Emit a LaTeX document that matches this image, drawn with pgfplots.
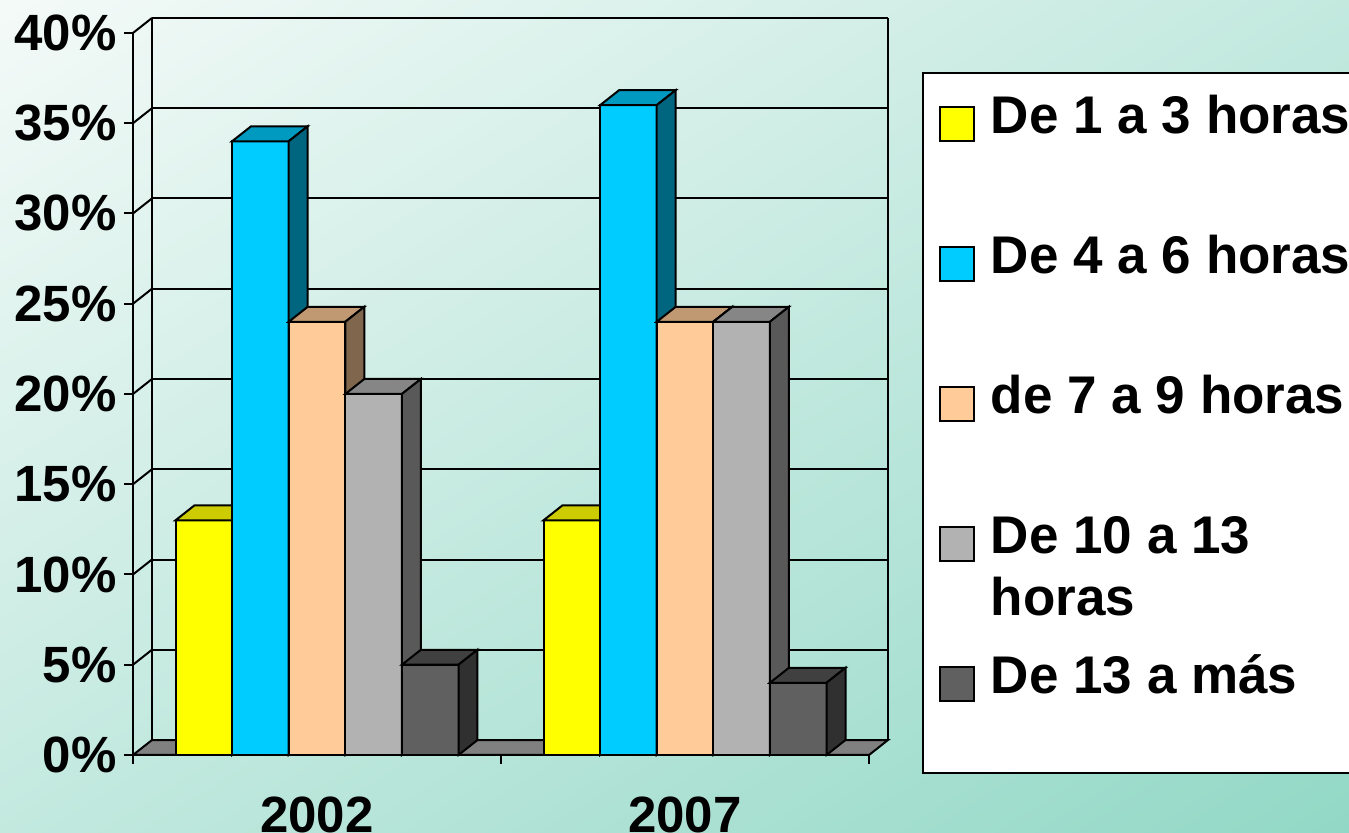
\documentclass[border=0pt]{standalone}
\usepackage{pgfplots}
\pgfplotsset{compat=1.18}
\usetikzlibrary{shadings}
\usepackage{fontspec}
\setmainfont{Liberation Sans}

\definecolor{bgA}{RGB}{244,250,248}
\definecolor{bgM}{RGB}{195,233,223}
\definecolor{bgB}{RGB}{146,216,198}
\definecolor{yf}{RGB}{255,255,0}\definecolor{yt}{RGB}{204,204,0}\definecolor{ys}{RGB}{128,128,0}
\definecolor{bf}{RGB}{0,204,255}\definecolor{bt}{RGB}{0,153,192}\definecolor{bs}{RGB}{0,102,128}
\definecolor{of}{RGB}{255,204,153}\definecolor{ot}{RGB}{192,153,115}\definecolor{os}{RGB}{128,102,77}
\definecolor{gf}{RGB}{178,178,178}\definecolor{gt}{RGB}{134,134,134}\definecolor{gs}{RGB}{89,89,89}
\definecolor{df}{RGB}{96,96,96}\definecolor{dt}{RGB}{64,64,64}\definecolor{ds}{RGB}{48,48,48}
\definecolor{floorc}{RGB}{128,128,128}

% 3D faces of a bar: #1 centre x, #2 height, #3 top colour, #4 side colour
\newcommand{\faces}[4]{%
  \pgfmathsetmacro\xa{#1-0.0769}%
  \pgfmathsetmacro\xb{#1+0.0769}%
  \pgfmathsetmacro\xc{#1+0.0769+0.0516}%
  \pgfmathsetmacro\xd{#1-0.0769+0.0516}%
  \pgfmathsetmacro\hh{#2+0.83}%
  \edef\temp{\noexpand\addplot[fill=#3,draw=black,line width=1pt,forget plot]
     coordinates {(\xa,#2) (\xb,#2) (\xc,\hh) (\xd,\hh)} -- cycle;
   \noexpand\addplot[fill=#4,draw=black,line width=1pt,forget plot]
     coordinates {(\xb,0) (\xb,#2) (\xc,\hh) (\xc,0.83)} -- cycle;}%
  \temp}

\newcommand{\bigfont}{\fontsize{25.5}{30}\selectfont\bfseries}
\newcommand{\legfont}{\fontsize{26.5}{31}\selectfont\bfseries}
\newcommand{\legsq}[1]{\addlegendimage{legend image code/.code={\draw[fill=#1,draw=black,line width=1pt] (0pt,1pt) rectangle (17pt,18pt); \path (25pt,0pt);}}}

\begin{document}
\begin{tikzpicture}[font=\bigfont]
\useasboundingbox (0,0) rectangle (674.5pt,416.5pt);
\clip (0,0) rectangle (674.5pt,416.5pt);
\shade[upper left=bgA, upper right=bgM, lower left=bgM, lower right=bgB] (0,0) rectangle (674.5pt,416.5pt);
\begin{axis}[
  at={(66.5pt,39pt)}, anchor=south west,
  scale only axis, width=377.5pt, height=368.5pt,
  xmin=0, xmax=2.0516, ymin=0, ymax=40.83,
  clip=false,
  axis lines*=left,
  axis line style={draw=none,-},
  xtick={0,1,2}, xticklabels={},
  ytick={0,5,...,40},
  yticklabels={0\%,5\%,10\%,15\%,20\%,25\%,30\%,35\%,40\%},
  tick align=outside,
  major tick length=4.5pt,
  tick style={black,line width=1pt},
  yticklabel style={font=\bigfont, inner xsep=3.5pt},
  legend style={at={(1.045,0.9267)}, anchor=north west, draw=black, line width=1pt,
     fill=white, inner xsep=8pt, inner ysep=0pt, row sep=0pt,
     nodes={inner sep=0pt, text height=30pt, text depth=40pt, font=\legfont}},
  legend cell align=left,
]
% floor
\addplot[fill=floorc,draw=black,line width=1pt,forget plot] coordinates {(0,0) (2,0) (2.0516,0.83) (0.0516,0.83)} -- cycle;
% back wall grid
\addplot[black,line width=1pt,forget plot] coordinates {(0.0516,5.83) (2.0516,5.83)};
\addplot[black,line width=1pt,forget plot] coordinates {(0.0516,10.83) (2.0516,10.83)};
\addplot[black,line width=1pt,forget plot] coordinates {(0.0516,15.83) (2.0516,15.83)};
\addplot[black,line width=1pt,forget plot] coordinates {(0.0516,20.83) (2.0516,20.83)};
\addplot[black,line width=1pt,forget plot] coordinates {(0.0516,25.83) (2.0516,25.83)};
\addplot[black,line width=1pt,forget plot] coordinates {(0.0516,30.83) (2.0516,30.83)};
\addplot[black,line width=1pt,forget plot] coordinates {(0.0516,35.83) (2.0516,35.83)};
\addplot[black,line width=1pt,forget plot] coordinates {(0.0516,40.83) (2.0516,40.83)};
\addplot[black,line width=1pt,forget plot] coordinates {(0.0516,0.83) (0.0516,40.83)};
\addplot[black,line width=1pt,forget plot] coordinates {(2.0516,0.83) (2.0516,40.83)};
% left wall diagonals
\addplot[black,line width=1pt,forget plot] coordinates {(0,5) (0.0516,5.83)};
\addplot[black,line width=1pt,forget plot] coordinates {(0,10) (0.0516,10.83)};
\addplot[black,line width=1pt,forget plot] coordinates {(0,15) (0.0516,15.83)};
\addplot[black,line width=1pt,forget plot] coordinates {(0,20) (0.0516,20.83)};
\addplot[black,line width=1pt,forget plot] coordinates {(0,25) (0.0516,25.83)};
\addplot[black,line width=1pt,forget plot] coordinates {(0,30) (0.0516,30.83)};
\addplot[black,line width=1pt,forget plot] coordinates {(0,35) (0.0516,35.83)};
\addplot[black,line width=1pt,forget plot] coordinates {(0,40) (0.0516,40.83)};

% De 1 a 3 horas
\addplot[ybar,bar width=0.1538,bar shift=0pt,fill=yf,draw=black,line width=1pt,forget plot]
  coordinates {(0.1924,13) (1.1924,13)};
\faces{0.1924}{13}{yt}{ys}\faces{1.1924}{13}{yt}{ys}
% De 4 a 6 horas
\addplot[ybar,bar width=0.1538,bar shift=0pt,fill=bf,draw=black,line width=1pt,forget plot]
  coordinates {(0.3462,34) (1.3462,36)};
\faces{0.3462}{34}{bt}{bs}\faces{1.3462}{36}{bt}{bs}
% de 7 a 9 horas
\addplot[ybar,bar width=0.1538,bar shift=0pt,fill=of,draw=black,line width=1pt,forget plot]
  coordinates {(0.5,24) (1.5,24)};
\faces{0.5}{24}{ot}{os}\faces{1.5}{24}{ot}{os}
% De 10 a 13 horas
\addplot[ybar,bar width=0.1538,bar shift=0pt,fill=gf,draw=black,line width=1pt,forget plot]
  coordinates {(0.6538,20) (1.6538,24)};
\faces{0.6538}{20}{gt}{gs}\faces{1.6538}{24}{gt}{gs}
% De 13 a mas
\addplot[ybar,bar width=0.1538,bar shift=0pt,fill=df,draw=black,line width=1pt,forget plot]
  coordinates {(0.8076,5) (1.8076,4)};
\faces{0.8076}{5}{dt}{ds}\faces{1.8076}{4}{dt}{ds}

% front axis lines
\addplot[black,line width=1pt,forget plot] coordinates {(0,40) (0,0) (2,0)};

\legsq{yf}\addlegendentry{De 1 a 3 horas}
\legsq{bf}\addlegendentry{De 4 a 6 horas}
\legsq{of}\addlegendentry{de 7 a 9 horas}
\legsq{gf}\addlegendentry{\smash{\vtop{\hbox{De 10 a 13}\hbox{horas}}}}
\legsq{df}\addlegendentry{De 13 a más}

\node[anchor=north,inner sep=0pt,yshift=-20.5pt,font=\bigfont] at (axis cs:0.5,0) {2002};
\node[anchor=north,inner sep=0pt,yshift=-20.5pt,font=\bigfont] at (axis cs:1.5,0) {2007};
\end{axis}
\end{tikzpicture}
\end{document}
